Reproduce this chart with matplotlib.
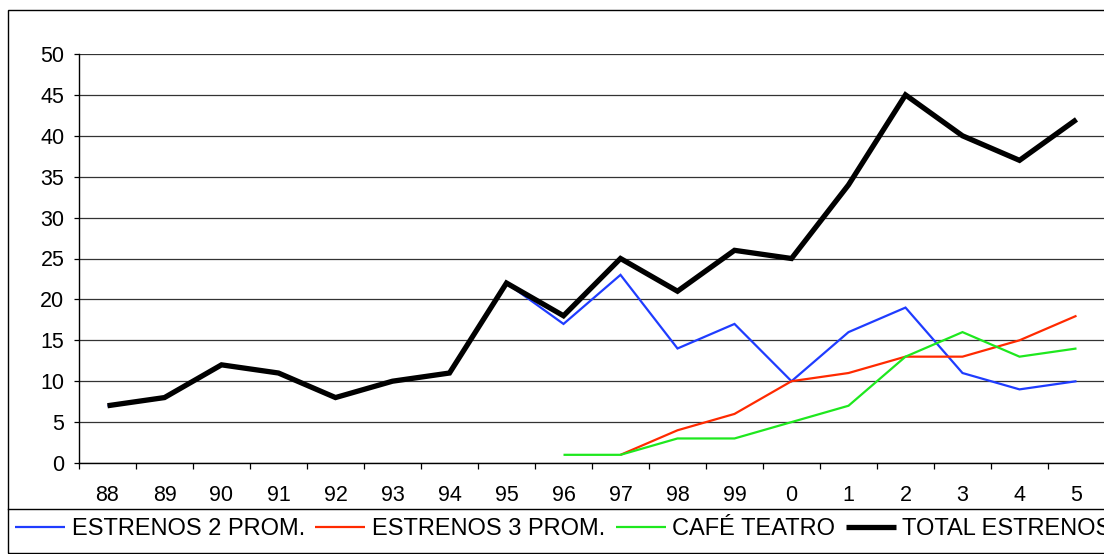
import numpy as np
import matplotlib
matplotlib.use('Agg')
import matplotlib.pyplot as plt
from matplotlib.patches import Rectangle
from matplotlib.lines import Line2D

plt.rcParams['font.family'] = ['Liberation Sans', 'DejaVu Sans']

years = ['88', '89', '90', '91', '92', '93', '94', '95', '96', '97', '98', '99',
         '0', '1', '2', '3', '4', '5']

# series per year (None = no data that year)
estrenos_2 = [7, 8, 12, 11, 8, 10, 11, 22, 17, 23, 14, 17, 10, 16, 19, 11, 9, 10]
estrenos_3 = [None] * 9 + [1, 4, 6, 10, 11, 13, 13, 15, 18]
cafe_teatro = [None] * 8 + [1, 1, 3, 3, 5, 7, 13, 16, 13, 14]
total = [7, 8, 12, 11, 8, 10, 11, 22, 18, 25, 21, 26, 25, 34, 45, 40, 37, 42]

SERIES = [
    ('ESTRENOS 2 PROM.', estrenos_2, '#1f3cff', 1.6),
    ('ESTRENOS 3 PROM.', estrenos_3, '#ff2a00', 1.6),
    ('CAFÉ TEATRO', cafe_teatro, '#1ee81e', 1.6),
    ('TOTAL ESTRENOS', total, '#000000', 3.8),
]

W, H = 1104, 554
fig = plt.figure(figsize=(W / 100, H / 100), dpi=100)

# chart border and legend separator
fig.add_artist(Rectangle((8 / W, 1 - 553 / H), 2.0, (553 - 10) / H,
                         transform=fig.transFigure, fill=False,
                         edgecolor='black', linewidth=1.0))
fig.add_artist(Line2D([8 / W, 1.5], [1 - 509 / H, 1 - 509 / H],
                      transform=fig.transFigure, color='black', linewidth=1.0))

# plot area runs past the right edge of the image
ax_left, ax_top, ax_bottom = 79, 54, 463
n = len(years)
cat_w = 57
ax = fig.add_axes([ax_left / W, 1 - ax_bottom / H,
                   n * cat_w / W, (ax_bottom - ax_top) / H])

x = np.arange(n)
handles = []
for label, vals, color, lw in SERIES:
    y = np.array([np.nan if v is None else v for v in vals], dtype=float)
    h, = ax.plot(x, y, color=color, linewidth=lw, label=label,
                 solid_capstyle='butt', solid_joinstyle='miter')
    handles.append(h)

ax.set_xlim(-0.5, n - 0.5)
ax.set_ylim(0, 50)
ax.set_yticks(np.arange(0, 51, 5))
ax.yaxis.grid(True, color='#333333', linewidth=0.9)
ax.set_axisbelow(True)

ax.set_xticks(x)
ax.set_xticklabels(years)
ax.set_xticks(np.arange(-0.5, n, 1), minor=True)
ax.tick_params(axis='x', which='major', length=0, pad=16, labelsize=15.5)
ax.tick_params(axis='x', which='minor', length=4.3, width=0.9, direction='out')
ax.tick_params(axis='y', length=3.6, width=0.9, pad=7, labelsize=15.5)

for side in ('top', 'right'):
    ax.spines[side].set_visible(False)
for side in ('left', 'bottom'):
    ax.spines[side].set_linewidth(1.0)
    ax.spines[side].set_color('black')

fs = 17
fpx = fs * 100 / 72
fig.legend(handles=handles, loc='center left',
           bbox_to_anchor=(15 / W, 1 - 529 / H), ncol=4, frameon=False,
           fontsize=fs, borderpad=0, borderaxespad=0,
           handlelength=50 / fpx, handletextpad=7 / fpx,
           columnspacing=10 / fpx)

fig.savefig('out.png', dpi=100)
